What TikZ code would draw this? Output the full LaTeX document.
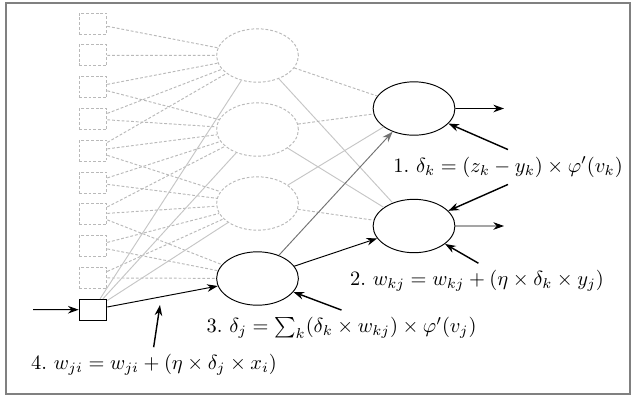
\documentclass[tikz,border=0pt]{standalone}
\usepackage{amsmath}
\usepackage{tikz}
\usepackage{xcolor}
\usetikzlibrary{shapes.geometric, arrows.meta}

\begin{document}
\begin{tikzpicture}[scale=0.148, thin, >={Stealth[length=4.5pt, width=3.2pt]},
    inbox/.style={draw, minimum width=0.41cm, minimum height=0.31cm, inner sep=0pt},
    neuron/.style={draw, ellipse, minimum width=1.21cm, minimum height=0.79cm, inner sep=0pt},
    faint/.style={gray!55, dash pattern=on 1.2pt off 0.8pt},
    pale/.style={gray!45},
    rule/.style={scale=0.86}]
    \useasboundingbox (0,0) rectangle (63.5,40);
    \draw[gray, line width=0.8pt] (0.6,0.6) rectangle (63.0,39.7);
    % input layer
    \foreach \i in {1,...,9}
        \node[inbox, faint] (x\i) at (9.3, {37.65-3.18*(\i-1)}) {};
    \node[inbox] (x10) at (9.3, 9.03) {};
    % hidden layer
    \foreach \j in {1,2,3}
        \node[neuron, faint] (h\j) at (25.75, {34.45-7.4*(\j-1)}) {};
    \node[neuron] (h4) at (25.75, 12.15) {};
    % output layer
    \node[neuron] (o1) at (41.4, 29.15) {};
    \node[neuron] (o2) at (41.4, 17.4) {};
    % input -> hidden
    \foreach \i in {1,...,5} \draw[faint] (x\i) -- (h1);
    \foreach \i in {3,...,7} \draw[faint] (x\i) -- (h2);
    \foreach \i in {5,...,9} \draw[faint] (x\i) -- (h3);
    \foreach \i in {7,8,9} \draw[faint] (x\i) -- (h4);
    \foreach \j in {1,2,3} \draw[pale] (x10) -- (h\j);
    \draw[->] (x10) -- (h4);
    % hidden -> output
    \draw[faint] (h1) -- (o1);
    \draw[pale] (h1) -- (o2);
    \draw[faint] (h2) -- (o1);
    \draw[pale] (h2) -- (o2);
    \draw[pale] (h3) -- (o1);
    \draw[faint] (h3) -- (o2);
    \draw[->, gray!90!black] (h4) -- (o1);
    \draw[->] (h4) -- (o2);
    % in and out
    \coordinate (x0) at (3.3, 9.03);
    \coordinate (y1) at (50.4, 29.15);
    \coordinate (y2) at (50.4, 17.4);
    \draw[->] (x0) -- (x10);
    \draw[->] (o1) -- (y1);
    \draw[->] (o2) -- (y2);
    % update rules
    \node[rule] (d1) at (50.8, 23.3) {1.~$\delta_k = (z_k - y_k) \times \varphi'(v_k)$};
    \node[rule] (d2) at (47.7, 11.9) {2.~$w_{kj} = w_{kj} + (\eta \times \delta_k \times y_j)$};
    \node[rule] (d3) at (34.15, 7.2) {3.~$\delta_j = \sum_k(\delta_k \times w_{kj}) \times \varphi'(v_j)$};
    \node[rule] (d4) at (15.4, 3.5) {4.~$w_{ji} = w_{ji} + (\eta \times \delta_j \times x_i)$};
    \coordinate (w4) at (16.0, 9.5);
    \draw[->, semithick] (d1.north) -- (o1);
    \draw[->, semithick] (d1.south) -- (o2);
    \draw[->, semithick] ([xshift=4pt]d2.north) -- (o2);
    \draw[->, semithick] (d3.north) -- (h4);
    \draw[->, semithick] ([xshift=-1pt]d4.north) -- (w4);
\end{tikzpicture}
\end{document}
